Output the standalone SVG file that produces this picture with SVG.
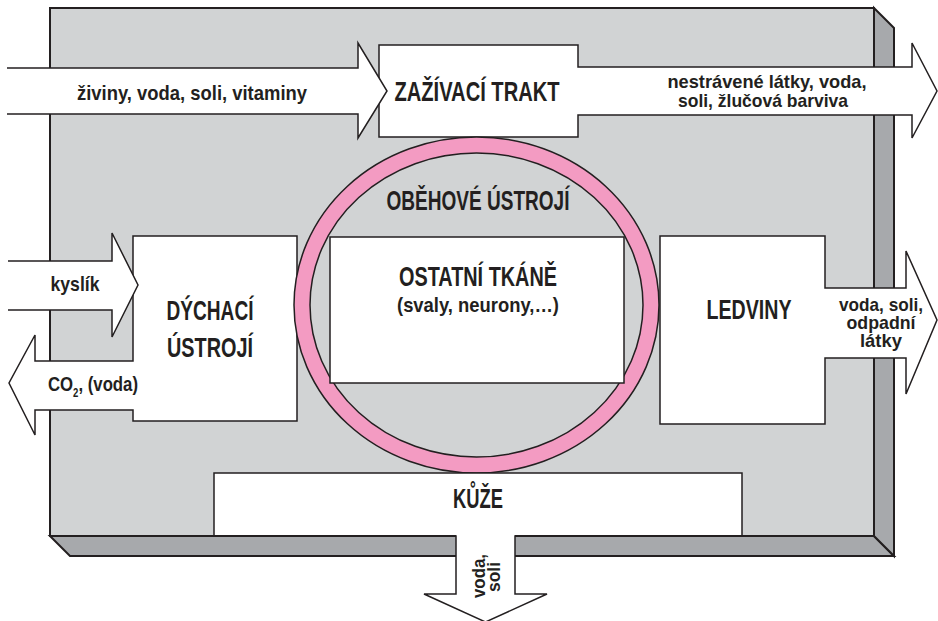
<svg xmlns="http://www.w3.org/2000/svg" width="938" height="621" viewBox="0 0 938 621">
<style>
.edge{stroke:#231f20;stroke-width:2;stroke-linejoin:miter}
.box{fill:#ffffff;stroke:#231f20;stroke-width:1.5;stroke-linejoin:miter}
.t{font-family:'Liberation Sans',Arial,sans-serif;font-weight:700;fill:#231f20}
.big{font-size:28px}
.sm{font-size:21px}
.xs{font-size:19px}
</style>
<rect x="0" y="0" width="938" height="621" fill="#ffffff"/>
<g id="panel">
  <polygon class="edge" points="50,536 70,556 894,556 874,536" fill="#a7a9ac"/>
  <polygon class="edge" points="874,8 894,28 894,556 874,536" fill="#a7a9ac"/>
  <rect class="edge" x="50" y="8" width="824" height="528" fill="#d1d3d4"/>
</g>
<g id="zazivaci">
  <path class="box" d="M379,45 H578 V67 H912 V43 L937,91 L912,138 V115 H578 V137 H379 Z"/>
  <text class="t big" x="477" y="101" text-anchor="middle" textLength="165" lengthAdjust="spacingAndGlyphs">ZAŽÍVACÍ TRAKT</text>
  <text class="t xs" x="767" y="88" text-anchor="middle" textLength="199" lengthAdjust="spacingAndGlyphs">nestrávené látky, voda,</text>
  <text class="t xs" x="763" y="107" text-anchor="middle" textLength="170" lengthAdjust="spacingAndGlyphs">soli, žlučová barviva</text>
</g>
<g id="dychaci">
  <path class="box" d="M133,236 H297 V421 H133 V410 H35 V435 L9,383 L35,335 V361 H133 Z"/>
  <text class="t big" x="210" y="320" text-anchor="middle" textLength="87" lengthAdjust="spacingAndGlyphs">DÝCHACÍ</text>
  <text class="t big" x="210" y="357" text-anchor="middle" textLength="86" lengthAdjust="spacingAndGlyphs">ÚSTROJÍ</text>
  <text class="t sm" x="48" y="391" textLength="90" lengthAdjust="spacingAndGlyphs">CO<tspan font-size="12" dy="6">2</tspan><tspan dy="-6">, (voda)</tspan></text>
</g>
<g id="obehove">
  <ellipse cx="476.5" cy="305" rx="174.5" ry="160" fill="none" stroke="#f39bc2" stroke-width="16"/>
  <ellipse cx="476.5" cy="305" rx="182.5" ry="168" fill="none" stroke="#231f20" stroke-width="1.5"/>
  <ellipse cx="476.5" cy="305" rx="166.5" ry="152" fill="none" stroke="#231f20" stroke-width="1.5"/>
  <text class="t big" x="478" y="210" text-anchor="middle" textLength="183" lengthAdjust="spacingAndGlyphs">OBĚHOVÉ ÚSTROJÍ</text>
</g>
<g id="ostatni">
  <rect class="box" x="330" y="237" width="294" height="146"/>
  <text class="t big" x="478" y="286" text-anchor="middle" textLength="158" lengthAdjust="spacingAndGlyphs">OSTATNÍ TKÁNĚ</text>
  <text class="t sm" x="478" y="312" text-anchor="middle" textLength="162" lengthAdjust="spacingAndGlyphs">(svaly, neurony,…)</text>
</g>
<g id="ledviny">
  <path class="box" d="M660,236 H825 V288 H906 V251 L937,320 L906,394 V358 H825 V424 H660 Z"/>
  <text class="t big" x="749" y="319" text-anchor="middle" textLength="85" lengthAdjust="spacingAndGlyphs">LEDVINY</text>
  <text class="t xs" x="881" y="311" text-anchor="middle" textLength="84" lengthAdjust="spacingAndGlyphs">voda, soli,</text>
  <text class="t xs" x="881" y="329" text-anchor="middle" textLength="69" lengthAdjust="spacingAndGlyphs">odpadní</text>
  <text class="t xs" x="881" y="347" text-anchor="middle" textLength="42" lengthAdjust="spacingAndGlyphs">látky</text>
</g>
<g id="kuze">
  <path class="box" d="M214,473 H742 V536 H515 V594 H547 L485.5,622 L424,594 H456 V536 H214 Z"/>
  <line x1="214" y1="536" x2="456" y2="536" class="edge"/>
  <line x1="515" y1="536" x2="742" y2="536" class="edge"/>
  <text class="t big" x="478" y="508" text-anchor="middle" textLength="50" lengthAdjust="spacingAndGlyphs">KŮŽE</text>
  <text class="t xs" transform="translate(485,576) rotate(-90)" text-anchor="middle" textLength="44" lengthAdjust="spacingAndGlyphs">voda,</text>
  <text class="t xs" transform="translate(500,577) rotate(-90)" text-anchor="middle" textLength="30" lengthAdjust="spacingAndGlyphs">soli</text>
</g>
<g id="connectors">
  <g id="in-food">
    <path class="box" d="M7,68 H358 V43 L387,91 L358,138 V114 H7"/>
    <text class="t sm" x="192" y="100" text-anchor="middle" textLength="230" lengthAdjust="spacingAndGlyphs">živiny, voda, soli, vitaminy</text>
  </g>
  <g id="in-oxygen">
    <path class="box" d="M8,261 H112 V233 L138,285 L112,337 V310 H8"/>
    <text class="t sm" x="75" y="291" text-anchor="middle" textLength="49" lengthAdjust="spacingAndGlyphs">kyslík</text>
  </g>
</g>
</svg>
